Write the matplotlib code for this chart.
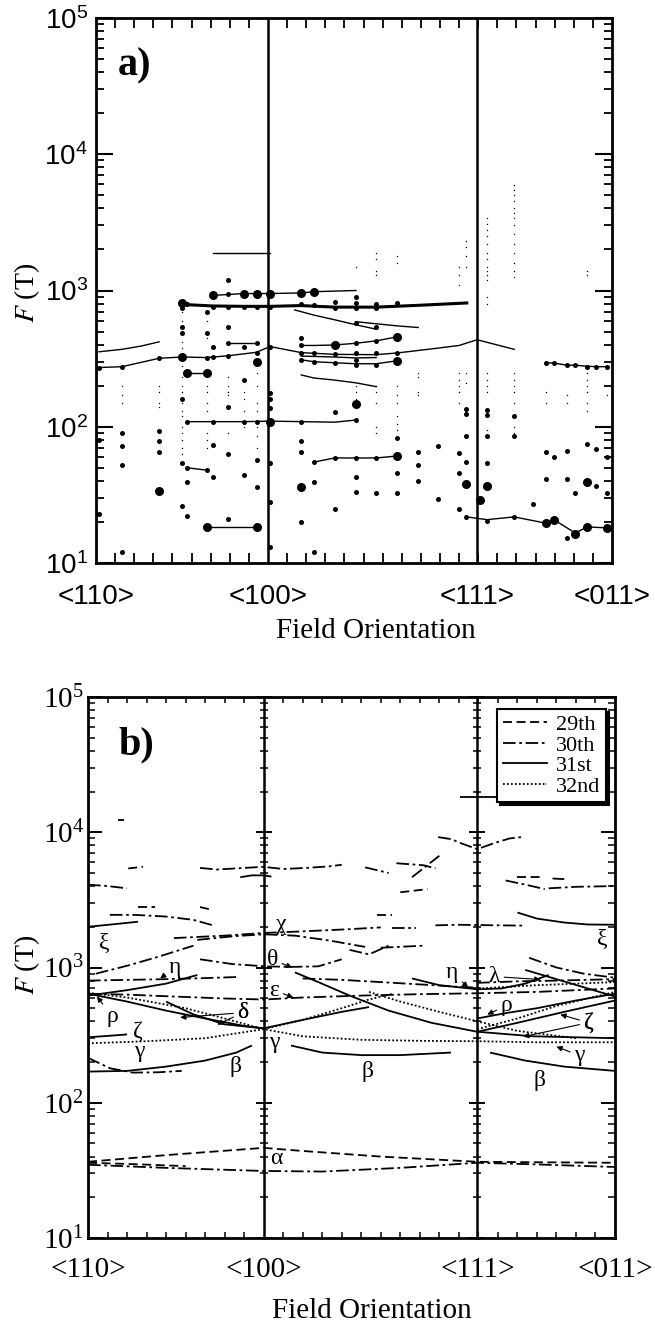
import matplotlib.pyplot as plt
from matplotlib.lines import Line2D
from matplotlib.ticker import MultipleLocator, LogLocator, NullFormatter

plt.rcParams['mathtext.fontset'] = 'stix'
SERIF = 'Liberation Serif'
SANS = 'Liberation Sans'

# field directions, as angle (deg) along the rotation path
DIRS = ['<110>', '<100>', '<111>', '<011>']
DIR_DEG = [0, 45, 99.74, 135]

# ---- panel a: measured frequencies, column angle -> F (T)
A_MED = {
    0.8: [272, 80, 23],
    6.8: [275, 90, 72, 52.6, 12],
    16.5: [321, 93, 79, 65],
    22.5: [750, 543, 490, 160, 54, 26],
    23.8: [790, 109, 50, 39, 22],
    29.0: [690, 490, 321, 48],
    30.6: [760, 388, 325, 109, 74, 43],
    34.6: [1200, 950, 760, 543, 415, 331, 140, 63, 21],
    38.7: [760, 388, 222, 109, 44],
    42.0: [760, 415, 350, 109, 57, 36],
    45.5: [760, 388, 178, 160, 138, 54, 28, 13],
    53.7: [790, 445, 395, 350, 310, 109, 78, 65, 20],
    57.0: [780, 345, 300, 55, 39, 12],
    62.4: [830, 750, 340, 295, 129, 59, 25],
    68.0: [900, 810, 750, 580, 410, 350, 310, 285, 112, 59, 43, 33],
    73.3: [800, 750, 536, 427, 350, 285, 59, 32.7],
    78.8: [813, 350, 82, 46, 32.7],
    84.3: [65, 52, 40],
    89.6: [72, 29.5],
    95.0: [64, 46, 25],
    96.9: [135, 125, 85, 55, 21.8],
    102.3: [133, 123, 85, 54, 20.4],
    109.4: [120, 85, 21.8],
    114.4: [27],
    117.7: [295, 65, 41.5],
    119.9: [293, 60],
    123.2: [283, 66, 41.5, 15.3],
    125.4: [283, 32.7],
    128.5: [276, 75],
    130.9: [276, 69, 37],
    133.8: [276, 60, 32.7],
}
A_BIG = {
    16.5: [34],
    22.5: [813, 325],
    23.8: [250],
    29.0: [250, 18.4],
    30.6: [920],
    38.7: [950],
    42.0: [950, 300, 18.4],
    45.5: [950, 109],
    53.7: [960, 36],
    57.0: [980],
    62.4: [398],
    68.0: [148],
    78.8: [457, 305, 61],
    96.9: [38],
    100.5: [29],
    102.3: [37],
    117.7: [19.6],
    119.9: [20.7],
    125.4: [16.3],
    128.5: [39.5, 18.4],
    133.8: [18.1],
}
A_TINY = {
    6.8: [200, 170, 150],
    16.5: [200, 180, 150, 140],
    22.5: [700, 600, 420, 380, 280, 230, 200, 180, 150, 130, 120, 100, 90, 80, 70, 63],
    29.0: [600, 450, 200, 180, 150, 130, 90, 80, 70],
    34.6: [230, 200, 180, 170, 90],
    38.7: [180, 160, 130, 100],
    42.0: [250, 200, 150, 130, 100, 85, 70],
    68.0: [1500, 200, 180, 160],
    73.3: [1900, 1700, 1400, 1300, 200, 180, 150, 100, 90],
    78.8: [1800, 1600, 200, 170, 150, 120, 105, 95],
    84.3: [250, 230, 180, 170],
    95.0: [1500, 1300, 1100, 250, 220, 200, 180, 150],
    96.9: [2300, 2100, 1800, 1500, 250, 210],
    102.3: [3400, 3100, 2800, 2500, 2200, 1900, 1700, 1500, 1400, 1300, 1200, 900, 800, 250, 220, 200, 180, 95],
    109.4: [5900, 5500, 5000, 4500, 4000, 3700, 3400, 3000, 2600, 2200, 1900, 1600, 1400, 1250,
            250, 220, 200, 180, 150, 100, 90],
    117.7: [180, 150],
    123.2: [170, 150],
    128.5: [1400, 1300, 250, 220, 200, 180, 150, 130],
    133.8: [170],
}
# connected branches in panel a: (angles, F)
A_LINES = [
    ([0.8, 6.8, 16.5, 22.5, 29, 34.6, 42, 45.5, 53.7, 62.4, 73.3, 78.8, 89.6, 95, 99.7, 109.4],
     [272, 276, 318, 325, 322, 332, 352, 388, 350, 340, 338, 348, 378, 395, 435, 370]),
    ([0.8, 6.8, 12, 16.5], [355, 370, 392, 420]),
    ([30.6, 45.5], [1870, 1870]),
    ([30.6, 38.7, 45.5, 53.7, 57, 68], [920, 950, 950, 960, 980, 1000]),
    ([52, 57, 62.4, 68, 73.3], [720, 660, 610, 560, 520]),
    ([68, 73.3, 78.8, 84.3], [590, 570, 550, 535]),
    ([53.7, 57, 62.4, 68, 73.3, 78.8], [395, 395, 398, 410, 427, 457]),
    ([53.7, 57, 62.4, 68, 73.3, 78.8], [310, 300, 295, 290, 290, 305]),
    ([53.7, 62.4, 68, 73.3], [330, 325, 320, 322]),
    ([53.7, 57, 62.4, 68, 73.3], [240, 228, 220, 210, 197]),
    ([23.8, 30.6, 38.7, 45.5, 53.7, 62.4, 68], [109, 109, 109, 110, 109, 108, 112]),
    ([23.8, 29], [250, 250]),
    ([34.6, 42], [415, 415]),
    ([23.8, 29], [50, 48]),
    ([29, 42], [18.4, 18.4]),
    ([57, 62.4, 68, 73.3, 78.8], [55, 59, 59, 59, 61]),
    ([96.9, 102.3, 109.4, 117.7, 119.9, 125.4, 128.5, 133.8], [21.8, 20.8, 21.8, 19.6, 20.7, 16.6, 18.4, 18.1]),
    ([117.7, 119.9, 123.2, 125.4, 128.5, 130.9, 133.8], [295, 293, 283, 283, 278, 276, 276]),
]
A_HEAVY = ([22.5, 30.6, 38.7, 45.5, 53.7, 62.4, 73.3, 85, 97],
           [790, 770, 765, 765, 775, 755, 755, 780, 810])

# ---- panel b: calculated orbits per band, (angles, F)
BAND29 = [
    ([0, 20, 45, 55, 75, 99.7, 115, 135], [36.6, 41, 46.4, 44, 40, 36.6, 36.3, 36]),
    ([0, 10, 25], [36, 35.3, 34]),
    ([7.8, 9.2], [12300, 12300]),
    ([10.3, 14.1], [5400, 5550]),
    ([12.8, 17.2], [2800, 2800]),
    ([28.7, 31], [2800, 2700]),
    ([74, 78], [2450, 2450]),
    ([80, 87], [3600, 3800]),
    ([110, 116], [4700, 4700]),
]
BAND30 = [
    ([0, 5, 10], [4100, 4000, 3850]),
    ([28.7, 33, 40, 45, 50, 56, 62, 65], [5450, 5300, 5450, 5550, 5350, 5450, 5600, 5750]),
    ([5.6, 12, 20, 27, 32], [2450, 2450, 2380, 2250, 2050]),
    ([22, 35, 45, 55, 67, 75], [1650, 1720, 1800, 1850, 1920, 1980]),
    ([28, 37, 45, 53, 62, 71], [1600, 1700, 1760, 1720, 1580, 1420]),
    ([89.7, 93, 96, 99.7, 104, 108, 111], [9200, 8900, 8200, 7500, 8300, 9000, 9200]),
    ([89, 95, 99.7, 105, 112], [2050, 2070, 2060, 2050, 2040]),
    ([118, 125, 135], [3850, 3950, 4000]),
    ([107, 112, 117], [4400, 4100, 3800]),
    ([28.7, 37, 45.4, 52, 59, 65], [1150, 1060, 1020, 1010, 1020, 1150]),
    ([0, 10, 20, 30, 38], [800, 810, 820, 835, 850]),
    ([2, 10, 18, 27], [900, 1030, 1200, 1450]),
    ([0, 10, 22, 35, 45, 55, 70, 85, 99.7, 115, 135], [640, 630, 610, 590, 580, 600, 620, 635, 645, 660, 700]),
    ([0, 5.6, 11.5, 18, 24], [215, 180, 167, 168, 172]),
    ([0, 20, 45, 60, 80, 99.7, 115, 135], [34.8, 33, 31.3, 31, 33, 36, 35, 33.5]),
    ([113, 120, 127, 135], [1180, 1000, 900, 840]),
    ([99.7, 110, 120, 135], [770, 790, 800, 820]),
    ([55, 65, 75, 85, 95, 99.7], [830, 810, 780, 750, 720, 710]),
    ([71, 77], [5500, 5000]),
    ([79, 86, 89], [5900, 5700, 5400]),
    ([83, 90], [4650, 6700]),
    ([78, 84], [1950, 1950]),
    ([67, 72, 77], [1350, 1250, 1450]),
    ([75, 86], [1400, 1450]),
    ([119, 122], [4550, 4500]),
]
BAND31 = [
    ([0, 6, 12.8], [2000, 2080, 2180]),
    ([39, 42, 45, 47], [4650, 4800, 4800, 4700]),
    ([95.3, 99.7, 105], [18200, 18200, 18200]),
    ([110, 115, 122, 128, 135], [2550, 2300, 2150, 2080, 2070]),
    ([0, 10, 20, 28], [620, 680, 760, 880]),
    ([0, 10, 20, 30, 40, 45], [640, 560, 480, 420, 370, 355]),
    ([20, 27, 35, 45], [560, 450, 380, 355]),
    ([0, 5, 10], [305, 312, 320]),
    ([0, 10, 20, 30, 38, 42], [170, 172, 185, 205, 235, 265]),
    ([52, 60, 70, 80, 93], [265, 235, 225, 225, 235]),
    ([103, 112, 122, 135], [235, 205, 185, 172]),
    ([53, 59, 67, 77, 88, 99.7, 114, 135], [920, 780, 620, 480, 390, 335, 310, 300]),
    ([99.7, 110, 122, 135], [335, 390, 470, 570]),
    ([99.7, 107, 115, 125, 135], [420, 460, 500, 570, 640]),
    ([83, 90, 99.7, 106, 112, 118], [830, 740, 690, 700, 760, 880]),
    ([112, 120, 128, 135], [960, 820, 700, 610]),
    ([45, 55, 65, 72], [355, 410, 470, 510]),
]
BAND32 = [
    ([0, 15, 30, 45, 55, 70, 85, 99.7, 115, 135], [275, 285, 300, 350, 310, 292, 287, 285, 280, 280]),
    ([0, 10, 25, 35, 45], [650, 600, 500, 420, 350]),
    ([45, 55, 65, 72, 78], [350, 410, 500, 580, 640]),
    ([72, 80, 90, 99.7, 110, 125], [660, 560, 470, 400, 340, 300]),
    ([99.7, 110, 120, 135], [350, 420, 520, 660]),
    ([100, 115, 135], [700, 740, 780]),
]
BAND_NAMES = ['29th', '30th', '31st', '32nd']
BAND_STYLES = [(0, (5, 2.5)), (0, (7, 2, 1.5, 2)), '-', (0, (1, 1.2))]


def style_log_axis(ax, label_family, ysize):
    ax.set_yscale('log')
    ax.set_ylim(10, 1e5)
    ax.set_xlim(0, 135)
    ax.set_yticks([10, 100, 1000, 1e4, 1e5])
    ax.yaxis.set_minor_locator(LogLocator(base=10, subs=range(2, 10)))
    ax.yaxis.set_minor_formatter(NullFormatter())
    ax.set_yticklabels([r'$\mathdefault{10^{%d}}$' % k for k in range(1, 6)],
                       family=label_family, fontsize=ysize)
    ax.set_xticks(DIR_DEG)
    ax.xaxis.set_minor_locator(MultipleLocator(5))
    for s in ax.spines.values():
        s.set_linewidth(2)


def ticked_line(ax, deg):
    # vertical line carrying its own log ticks, like an inner y axis
    sub = ax.inset_axes([deg / 135, 0, 0.0001, 1])
    sub.set_yscale('log')
    sub.set_ylim(10, 1e5)
    sub.set_xticks([])
    sub.patch.set_alpha(0)
    for side in ['right', 'top', 'bottom']:
        sub.spines[side].set_visible(False)
    sub.spines['left'].set_linewidth(1.8)
    sub.yaxis.set_minor_locator(LogLocator(base=10, subs=range(2, 10)))
    sub.tick_params(axis='y', which='both', direction='inout', left=True, right=False,
                    labelleft=False, labelright=False)
    sub.tick_params(axis='y', which='major', length=12, width=1.4)
    sub.tick_params(axis='y', which='minor', length=6, width=1.1)


fig = plt.figure(figsize=(6.55, 13.23), dpi=100)

# ================= panel a
axa = fig.add_axes([96 / 655, 1 - 563 / 1323, 516 / 655, 545 / 1323])
style_log_axis(axa, SANS, 20)
axa.set_xticklabels(DIRS, family=SANS, fontsize=20)
axa.tick_params(axis='x', which='major', length=0, pad=15)
axa.tick_params(axis='x', which='minor', direction='in', top=True, bottom=True, length=7, width=1.3)
axa.tick_params(axis='y', which='major', direction='in', left=True, right=True, length=12, width=1.5, pad=6)
axa.tick_params(axis='y', which='minor', direction='in', left=True, right=True, length=6, width=1.3)

for d in DIR_DEG[1:3]:
    axa.axvline(d, color='black', lw=1.8)

for xs, ys in A_LINES:
    axa.plot(xs, ys, color='black', lw=1.0)
axa.plot(A_HEAVY[0], A_HEAVY[1], color='black', lw=2.2)

for d, fs in A_TINY.items():
    axa.plot([d] * len(fs), fs, 's', color='black', ms=0.9, mew=0)
for d, fs in A_MED.items():
    axa.plot([d] * len(fs), fs, 'o', color='black', ms=3.6, mew=0)
for d, fs in A_BIG.items():
    axa.plot([d] * len(fs), fs, 'o', color='black', ms=6.5, mew=0)

axa.text(0.043, 0.895, 'a)', transform=axa.transAxes, fontsize=29, fontweight='bold', family=SERIF)
axa.set_ylabel(r'$F$ (T)', family=SERIF, fontsize=20)
axa.yaxis.set_label_coords(-0.105, 0.495)
axa.set_xlabel('Field Orientation', family=SERIF, fontsize=21)
axa.xaxis.set_label_coords(0.543, -0.1)

# ================= panel b
axb = fig.add_axes([88 / 655, 85 / 1323, 527 / 655, 541 / 1323])
style_log_axis(axb, SERIF, 21)
axb.set_xticklabels(DIRS, family=SERIF, fontsize=21)
axb.tick_params(axis='x', which='major', length=0, pad=14)
axb.tick_params(axis='x', which='minor', direction='in', top=True, bottom=True, length=4, width=1.1)
axb.tick_params(axis='y', which='major', direction='in', left=True, right=True, length=10, width=1.4, pad=3)
axb.tick_params(axis='y', which='minor', direction='in', left=True, right=True, length=5, width=1.1)

for d in DIR_DEG[1:3]:
    ticked_line(axb, d)

for curves, ls in zip([BAND29, BAND30, BAND31, BAND32], BAND_STYLES):
    for xs, ys in curves:
        axb.plot(xs, ys, color='black', lw=1.3, linestyle=ls, solid_capstyle='butt')

handles = [Line2D([], [], color='black', lw=1.3, linestyle=ls) for ls in BAND_STYLES]
leg = axb.legend(handles, BAND_NAMES, loc='upper right', bbox_to_anchor=(0.983, 0.978),
                 borderaxespad=0, prop={'family': SERIF, 'size': 16}, handlelength=2.0,
                 labelspacing=0.0, borderpad=0.25, handletextpad=0.4, fancybox=False,
                 framealpha=1, edgecolor='black',
                 shadow={'color': 'black', 'alpha': 1, 'ox': 2, 'oy': -2})
leg.get_frame().set_linewidth(1.5)

greek_kw = dict(family=SERIF, fontsize=17, ha='center', va='center')
arrow_kw = dict(arrowstyle='-|>', lw=0.8, color='black', mutation_scale=8, shrinkA=1, shrinkB=0)
for txt, x, y in [('ξ', 4.1, 1507), ('ξ', 131.8, 1610), ('χ', 49.5, 2090), ('ζ', 12.8, 336),
                  ('γ', 13.1, 239), ('β', 37.7, 185), ('γ', 47.7, 278), ('β', 71.5, 170),
                  ('β', 115.6, 146), ('α', 48.2, 38.5)]:
    axb.text(x, y, txt, **greek_kw)
for txt, xt, yt, targets in [('η', 22.3, 1000, [(18.5, 830)]),
                             ('θ', 47.2, 1140, [(52.3, 1000)]),
                             ('ε', 47.7, 676, [(52.6, 600)]),
                             ('δ', 39.7, 464, [(23.6, 427), (33.1, 378)]),
                             ('ρ', 6.2, 434, [(2.3, 610)]),
                             ('η', 93.3, 918, [(97.4, 711)]),
                             ('λ', 104.1, 857, [(115.9, 815)]),
                             ('ρ', 107.2, 524, [(102.3, 449)]),
                             ('ζ', 128.2, 391, [(121, 449), (111.5, 308)]),
                             ('γ', 125.9, 223, [(120, 260)])]:
    for tx, ty in targets:
        axb.annotate(txt, xy=(tx, ty), xytext=(xt, yt), arrowprops=arrow_kw, **greek_kw)

axb.text(0.057, 0.893, 'b)', transform=axb.transAxes, fontsize=29, fontweight='bold', family=SERIF)
axb.set_ylabel(r'$F$ (T)', family=SERIF, fontsize=20)
axb.yaxis.set_label_coords(-0.088, 0.505)
axb.set_xlabel('Field Orientation', family=SERIF, fontsize=21)
axb.xaxis.set_label_coords(0.539, -0.11)

fig.savefig('out.png', dpi=100)
